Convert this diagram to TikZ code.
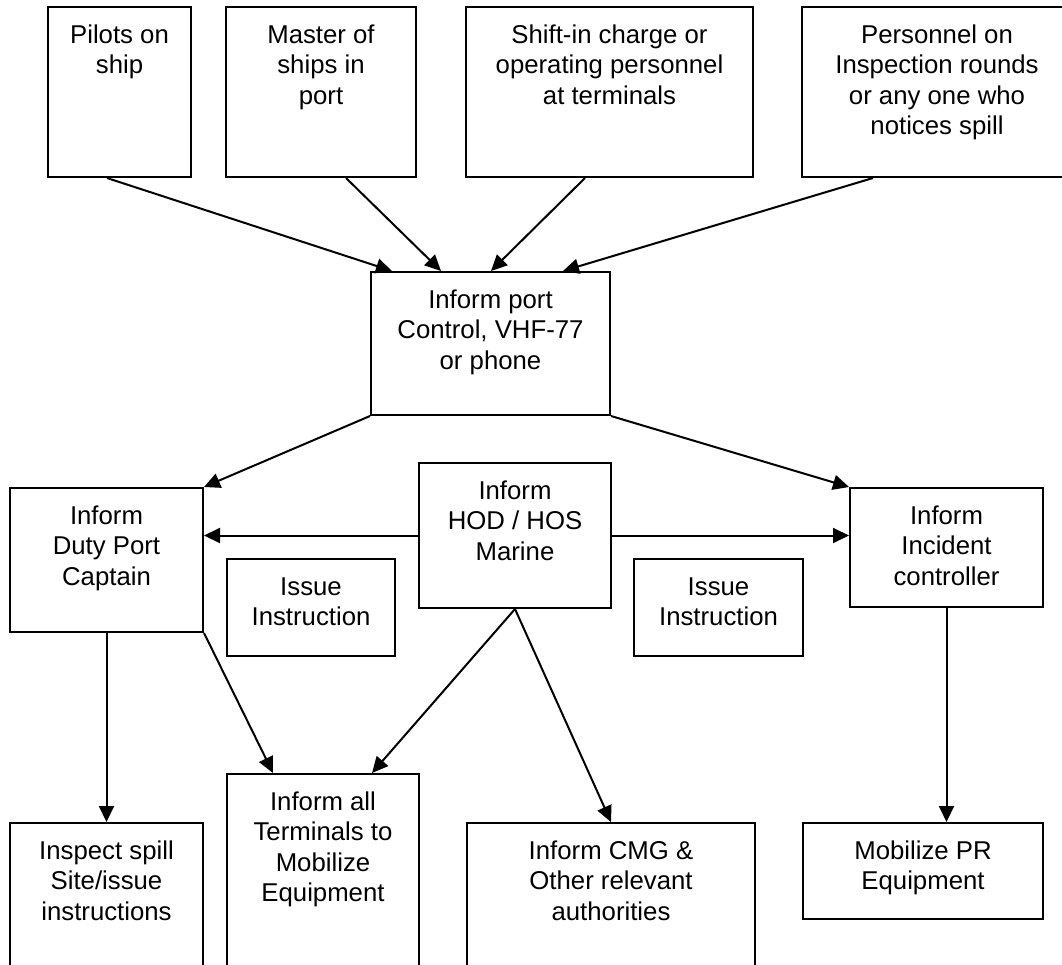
\documentclass[tikz,border=0pt]{standalone}
\usepackage{fontspec}
\setmainfont{Liberation Sans}
\usetikzlibrary{arrows.meta,calc}
\newcommand{\bt}[3]{\parbox[t][#2pt][t]{#1pt}{\centering\rule{0pt}{36pt}#3\par}}
\begin{document}
\begin{tikzpicture}[x=1pt,y=-1pt,
  box/.style={draw, line width=2pt, inner sep=0pt, anchor=north west,
    font=\fontsize{25.75}{30.5}\selectfont},
  arr/.style={line width=2pt, -{Triangle[length=16pt,width=15pt]}}]
\useasboundingbox (0,0) rectangle (1062,964);
\clip (0,0) rectangle (1062,964);
% top row
\node[box] (pilots) at (47,6) {\bt{143}{170}{Pilots on\\ship}};
\node[box] (master) at (225,6) {\bt{190}{170}{Master of\\ships in\\port}};
\node[box] (shift) at (465,6) {\bt{287}{170}{Shift-in charge or\\operating personnel\\at terminals}};
\node[box] (personnel) at (801,6) {\bt{270}{170}{Personnel on\\Inspection rounds\\or any one who\\notices spill}};
% port control
\node[box] (port) at (370,271) {\bt{239}{143}{Inform port\\Control, VHF-77\\or phone}};
% middle row
\node[box] (duty) at (9,487) {\bt{193}{144}{Inform\\Duty Port\\Captain}};
\node[box] (hod) at (418,462) {\bt{192}{145}{Inform\\HOD / HOS\\Marine}};
\node[box] (incident) at (849,487) {\bt{193}{119}{Inform\\Incident\\controller}};
\node[box] (issueL) at (226,558) {\bt{168}{97}{Issue\\Instruction}};
\node[box] (issueR) at (633,558) {\bt{169}{97}{Issue\\Instruction}};
% bottom row
\node[box] (inspect) at (9,822) {\bt{193}{200}{Inspect spill\\Site/issue\\instructions}};
\node[box] (terminals) at (226,773) {\bt{192}{250}{Inform all\\Terminals to\\Mobilize\\Equipment}};
\node[box] (cmg) at (466,822) {\bt{288}{200}{Inform CMG \&\\Other relevant\\authorities}};
\node[box] (mobilize) at (802,822) {\bt{240}{96}{Mobilize PR\\Equipment}};
% connectors
\draw[arr] ([xshift=60pt]pilots.south west) -- ([xshift=22pt]port.north west);
\draw[arr] ([xshift=121pt]master.south west) -- ([xshift=71pt]port.north west);
\draw[arr] ([xshift=120pt]shift.south west) -- ([xshift=121pt]port.north west);
\draw[arr] ([xshift=72pt]personnel.south west) -- ([xshift=193pt]port.north west);
\draw[arr] (port.south west) -- (duty.north east);
\draw[arr] (port.south east) -- (incident.north west);
\draw[arr] (hod.west) -- (hod.west -| duty.east);
\draw[arr] (hod.east) -- (hod.east -| incident.west);
\draw[arr] (duty.south) -- (duty.south |- inspect.north);
\draw[arr] (duty.south east) -- ([xshift=47pt]terminals.north west);
\draw[arr] (hod.south) -- ([xshift=146pt]terminals.north west);
\draw[arr] (hod.south) -- (cmg.north);
\draw[arr] (incident.south) -- (incident.south |- mobilize.north);
\end{tikzpicture}
\end{document}
